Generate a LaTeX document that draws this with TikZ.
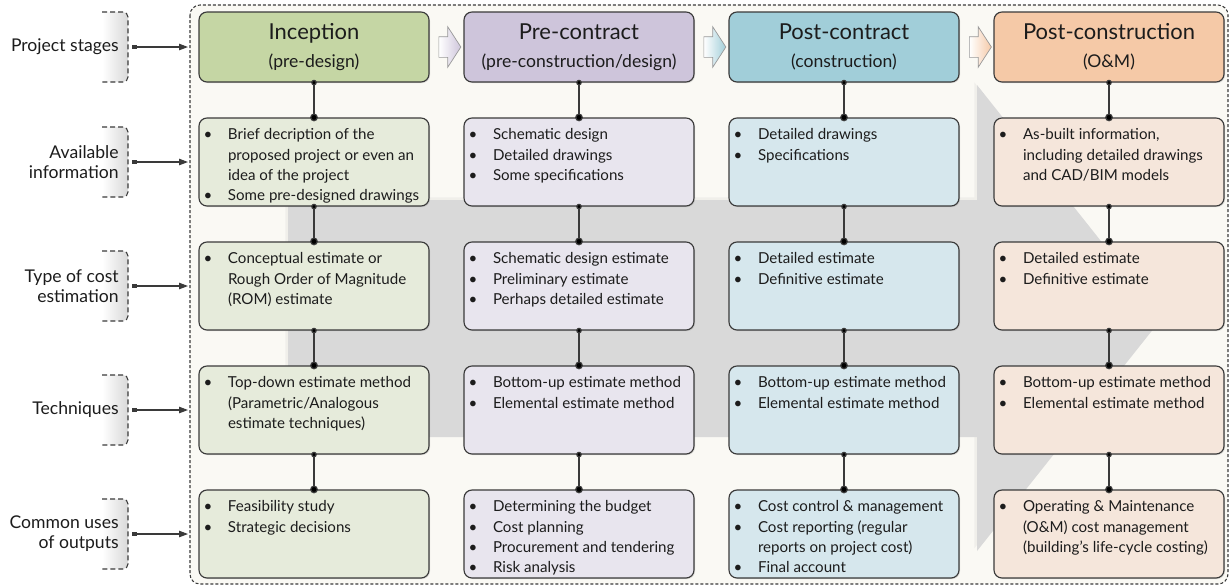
\documentclass[tikz,border=0pt]{standalone}
\usepackage{fontspec}
\setmainfont{Lato}
\usetikzlibrary{shapes.arrows,arrows.meta,shadows}

\definecolor{framebg}{RGB}{250,249,244}
\definecolor{bigarrow}{RGB}{217,217,217}
\definecolor{edgegray}{RGB}{58,58,58}
\definecolor{inkcol}{RGB}{28,28,28}
\definecolor{incHead}{RGB}{197,214,164}
\definecolor{incBody}{RGB}{230,235,219}
\definecolor{preHead}{RGB}{206,197,219}
\definecolor{preBody}{RGB}{232,229,238}
\definecolor{postHead}{RGB}{161,206,217}
\definecolor{postBody}{RGB}{214,231,237}
\definecolor{omHead}{RGB}{245,201,167}
\definecolor{omBody}{RGB}{245,230,219}

\newcommand{\bul}{\makebox[3.6mm]{\textbullet}}
\newcommand{\cellbox}[1]{\parbox[c][17.6mm][t]{46mm}{\vspace{1.5mm}\fontsize{8.6}{11.6}\selectfont
  \begin{tabular}{@{}l@{\hspace{2.2mm}}l@{}}#1\end{tabular}}}

\tikzset{
  stage/.style={draw=edgegray, line width=0.65pt, rounded corners=1.6mm,
    minimum width=46mm, minimum height=14mm, inner sep=0pt, align=center,
    text=inkcol, font=\fontsize{10}{16}\selectfont,
    drop shadow={shadow xshift=0.6pt, shadow yshift=-0.6pt, opacity=0.25}},
  info/.style={draw=edgegray, line width=0.65pt, rounded corners=1.6mm,
    inner sep=0pt, text=inkcol,
    drop shadow={shadow xshift=0.6pt, shadow yshift=-0.6pt, opacity=0.25}},
  link/.style={draw=edgegray, line width=0.7pt,
    {Circle[length=3.2pt]-Circle[length=4.4pt]}, shorten <=-1.6pt, shorten >=-2.2pt},
  rowlabel/.style={anchor=east, align=right, inner xsep=0pt, text=inkcol,
    font=\fontsize{10}{11.4}\selectfont},
  bracket/.style={draw=edgegray, line width=0.6pt, dash pattern=on 1mm off 0.6mm,
    rounded corners=1mm},
  bracketfill/.style={left color=white, right color=black!15, rounded corners=1mm},
  feed/.style={draw=edgegray, line width=0.6pt,
    {Square[length=2.6pt]-Triangle[length=5pt,width=3.6pt]}},
  flow/.style={single arrow, draw=black!40, line width=0.4pt, inner xsep=0pt,
    inner ysep=2mm, minimum height=4.4mm, single arrow head extend=2mm,
    single arrow tip angle=114, left color=white}
}

\begin{document}
\begin{tikzpicture}[x=0.2mm, y=-0.2mm]
        \useasboundingbox (0,0) rectangle (1230,586);
        \fill [framebg, rounded corners=2mm] (190,5) rectangle (1228,584);
        \draw [edgegray, line width=0.6pt, dash pattern=on 0.6mm off 0.4mm, rounded corners=2mm] (190,5) rectangle (1228,584);
        \fill [bigarrow, drop shadow={shadow xshift=-1.5pt, shadow yshift=1.5pt, opacity=0.08}]
            (288,200) -- (977,200) -- (977,85) -- (1162,318) -- (977,551) -- (977,437) -- (288,437) -- cycle;

        \shade [bracketfill] (102,12) -| (128,82) -- (102,82) -- cycle;
        \shade [bracketfill] (102,127) -| (128,197) -- (102,197) -- cycle;
        \shade [bracketfill] (102,251) -| (128,321) -- (102,321) -- cycle;
        \shade [bracketfill] (102,375) -| (128,445) -- (102,445) -- cycle;
        \shade [bracketfill] (102,499) -| (128,569) -- (102,569) -- cycle;
        \draw [bracket] (102,12) -| (128,82) -- (102,82);
        \draw [bracket] (102,127) -| (128,197) -- (102,197);
        \draw [bracket] (102,251) -| (128,321) -- (102,321);
        \draw [bracket] (102,375) -| (128,445) -- (102,445);
        \draw [bracket] (102,499) -| (128,569) -- (102,569);

        \node [rowlabel] (LS) at (119,47) {Project stages};
        \node [rowlabel] (LI) at (119,162) {Available\\information};
        \node [rowlabel] (LE) at (119,286) {Type of cost\\estimation};
        \node [rowlabel] (LT) at (119,410) {Techniques};
        \node [rowlabel] (LU) at (119,534) {Common uses\\of outputs};

        \coordinate (fS) at (188,47);
        \coordinate (fI) at (188,162);
        \coordinate (fE) at (188,286);
        \coordinate (fT) at (188,410);
        \coordinate (fU) at (188,534);
        \draw [feed] ([xshift=2.6mm]LS.east) -- (fS);
        \draw [feed] ([xshift=2.6mm]LI.east) -- (fI);
        \draw [feed] ([xshift=2.6mm]LE.east) -- (fE);
        \draw [feed] ([xshift=2.6mm]LT.east) -- (fT);
        \draw [feed] ([xshift=2.6mm]LU.east) -- (fU);

        \node [stage, fill=incHead] (H1) at (314,47) {{\fontsize{12.5}{14}\selectfont Inception}\\(pre-design)};
        \node [stage, fill=preHead] (H2) at (579,47) {{\fontsize{12.5}{14}\selectfont Pre-contract}\\(pre-construction/design)};
        \node [stage, fill=postHead] (H3) at (844,47) {{\fontsize{12.5}{14}\selectfont Post-contract}\\(construction)};
        \node [stage, fill=omHead] (H4) at (1109,47) {{\fontsize{12.5}{14}\selectfont Post-construction}\\(O\&M)};

        \node [flow, right color=preHead] (F12) at (446.5,47) {};
        \node [flow, right color=postHead] (F23) at (711.5,47) {};
        \node [flow, right color=omHead] (F34) at (977,47) {};

        \node [info, fill=incBody] (I1) at (314,162) {\cellbox{\bul & Brief decription of the\\ & proposed project or even an\\ & idea of the project\\ \bul & Some pre-designed drawings}};
        \node [info, fill=preBody] (I2) at (579,162) {\cellbox{\bul & Schematic design\\ \bul & Detailed drawings\\ \bul & Some specifications}};
        \node [info, fill=postBody] (I3) at (844,162) {\cellbox{\bul & Detailed drawings\\ \bul & Specifications}};
        \node [info, fill=omBody] (I4) at (1109,162) {\cellbox{\bul & As-built information,\\ & including detailed drawings\\ & and CAD/BIM models}};

        \node [info, fill=incBody] (E1) at (314,286) {\cellbox{\bul & Conceptual estimate or\\ & Rough Order of Magnitude\\ & (ROM) estimate}};
        \node [info, fill=preBody] (E2) at (579,286) {\cellbox{\bul & Schematic design estimate\\ \bul & Preliminary estimate\\ \bul & Perhaps detailed estimate}};
        \node [info, fill=postBody] (E3) at (844,286) {\cellbox{\bul & Detailed estimate\\ \bul & Definitive estimate}};
        \node [info, fill=omBody] (E4) at (1109,286) {\cellbox{\bul & Detailed estimate\\ \bul & Definitive estimate}};

        \node [info, fill=incBody] (T1) at (314,410) {\cellbox{\bul & Top-down estimate method\\ & (Parametric/Analogous\\ & estimate techniques)}};
        \node [info, fill=preBody] (T2) at (579,410) {\cellbox{\bul & Bottom-up estimate method\\ \bul & Elemental estimate method}};
        \node [info, fill=postBody] (T3) at (844,410) {\cellbox{\bul & Bottom-up estimate method\\ \bul & Elemental estimate method}};
        \node [info, fill=omBody] (T4) at (1109,410) {\cellbox{\bul & Bottom-up estimate method\\ \bul & Elemental estimate method}};

        \node [info, fill=incBody] (U1) at (314,534) {\cellbox{\bul & Feasibility study\\ \bul & Strategic decisions}};
        \node [info, fill=preBody] (U2) at (579,534) {\cellbox{\bul & Determining the budget\\ \bul & Cost planning\\ \bul & Procurement and tendering\\ \bul & Risk analysis}};
        \node [info, fill=postBody] (U3) at (844,534) {\cellbox{\bul & Cost control \& management\\ \bul & Cost reporting (regular\\ & reports on project cost)\\ \bul & Final account}};
        \node [info, fill=omBody] (U4) at (1109,534) {\cellbox{\bul & Operating \& Maintenance\\ & (O\&M) cost management\\ & (building’s life-cycle costing)}};

        \path [link] (H1) edge (I1);
        \path [link] (I1) edge (E1);
        \path [link] (E1) edge (T1);
        \path [link] (T1) edge (U1);
        \path [link] (H2) edge (I2);
        \path [link] (I2) edge (E2);
        \path [link] (E2) edge (T2);
        \path [link] (T2) edge (U2);
        \path [link] (H3) edge (I3);
        \path [link] (I3) edge (E3);
        \path [link] (E3) edge (T3);
        \path [link] (T3) edge (U3);
        \path [link] (H4) edge (I4);
        \path [link] (I4) edge (E4);
        \path [link] (E4) edge (T4);
        \path [link] (T4) edge (U4);
    \end{tikzpicture}
\end{document}
